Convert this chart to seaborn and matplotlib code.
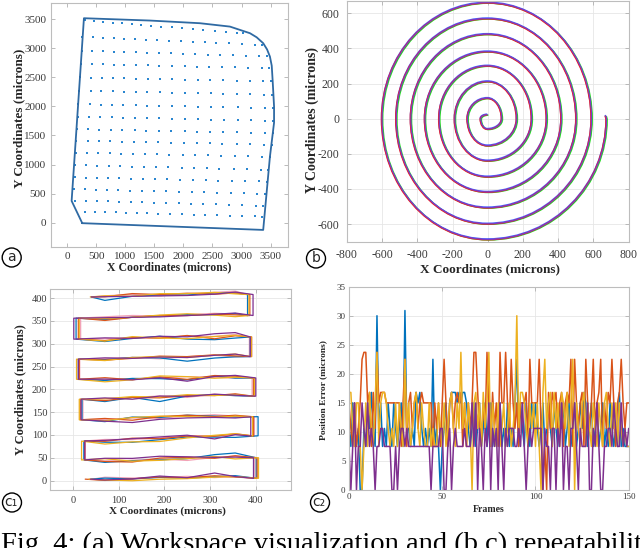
import numpy as np
import pandas as pd
import matplotlib
matplotlib.use("Agg")
import matplotlib.pyplot as plt
import matplotlib.transforms as mtransforms
from matplotlib.path import Path
from matplotlib.patches import PathPatch, Circle
import seaborn as sns

# ---------------- panel (a): workspace ----------------
outline_x = [258, 75, 287, 1423, 2284, 2800, 3145, 3260, 3373, 3440, 3489, 3520, 3535, 3560, 3560, 3489, 3373, 258]
outline_y = [-10, 373, 3518, 3478, 3432, 3374, 3260, 3190, 3088, 2980, 2857, 2700, 2456, 2000, 1720, 1136, -126, -10]

grid_row_y_left = [3480, 3200, 2960, 2730, 2500, 2270, 2040, 1825, 1610, 1410, 1205, 990, 780, 575, 380, 190]
grid_row_y_right = [3260, 3060, 2860, 2660, 2430, 2200, 1970, 1750, 1540, 1340, 1135, 905, 705, 495, 290, 105]
grid_row_x_left = [305, 262, 248, 236, 222, 208, 192, 178, 168, 158, 148, 138, 128, 118, 138, 300]
grid_row_x_right = [3030, 3346, 3432, 3477, 3506, 3518, 3535, 3545, 3535, 3518, 3489, 3460, 3432, 3403, 3373, 3346]
grid_ref_row_x = [178, 373, 563, 763, 953, 1165, 1366, 1578, 1796, 2026, 2244, 2468, 2685, 2932, 3162, 3403, 3535]

# ---------------- panel (b): spiral (axis crossings, microns) ----------------
spiral_x = [0, -40, 0, 80, 0, -115, 0, 165, 0, -187, 0, 250, 0, -276, 0, 335,
            0, -357, 0, 418, 0, -437, 0, 503, 0, -520, 0, 590, 0, -601, 0, 675]
spiral_y = [23, 0, -59, 0, 117, 0, -153, 0, 212, 0, -239, 0, 301, 0, -330, 0,
            382, 0, -417, 0, 481, 0, -506, 0, 570, 0, -598, 0, 660, 0, -687, 0]
spiral_tail_x = [670]
spiral_tail_y = [18]

# ---------------- panel (c1): raster scan ----------------
c1_row_y_left = [3, 45, 86, 133, 178, 222, 266, 310, 356, 402]
c1_row_y_right = [5, 50, 98, 140, 185, 225, 272, 315, 362, 408]
c1_turn_x = [35, 398, 24, 395, 18, 395, 12, 388, 12, 382, 40]
c1_station_x = [70, 130, 190, 250, 310, 355]

c1_blue_dev = [[2, 0, 3, 1, 4, 6], [-6, -3, -2, 0, 8, 11], [-4, -6, -2, 2, 0, -2], [-5, 4, 2, 6, 3, 0],
               [-6, 2, -8, 3, 5, 2], [-3, 1, 0, -3, 5, 0], [-2, 2, 0, -8, -2, 0], [-6, 0, 4, -3, -5, -2],
               [-4, 0, 2, 4, 3, 5], [-8, 0, 2, 1, 5, 4]]
c1_orange_dev = [[-3, 0, 4, 2, 6, 3], [-4, -6, 2, 3, 0, 5], [-2, 3, 0, 4, 2, 6], [2, -3, 4, 6, 2, 4],
                 [-4, 2, 0, 4, 3, 6], [3, -2, 4, -2, 6, 4], [-3, 0, 4, 2, 5, 2], [-4, 2, 0, 5, -3, 3],
                 [-6, 0, 3, 2, 4, 2], [0, 6, 3, 5, 2, 4]]
c1_yellow_dev = [[-2, -4, -1, 0, 3, 4], [2, -4, -3, 0, 4, -2], [-8, -5, -6, 0, 4, 6], [-3, 3, 5, 3, 0, 2],
                 [0, 4, 2, 6, 3, 4], [-6, -2, 6, 4, 0, 2], [-4, 2, 3, 0, 4, 6], [-5, 4, 0, -2, 2, 4],
                 [-2, 0, 4, 6, 2, -2], [2, 0, 5, 4, 6, 2]]
c1_purple_dev = [[-2, 0, 6, 2, 12, 4], [3, 2, 6, 4, 2, 2], [0, 2, 4, 6, -4, 4], [-4, -8, -2, 0, 0, -2],
                 [2, -2, 4, 2, 6, 3], [0, -2, 2, -6, 4, 6], [2, 0, 2, 0, 4, 6], [2, 0, 4, 2, 8, 10],
                 [0, 0, 0, 2, 4, 6], [0, 0, 0, 0, 2, 6]]
c1_pink_dev = [[4, 2, 3, 5, 2, 4], [-3, -2, 0, -4, 2, 4], [2, 0, 2, 4, 2, 4], [0, 2, 0, 4, 6, 2],
               [0, 2, 4, 0, 6, 2], [-2, 0, 2, 4, 2, 0], [0, 2, -2, 2, 4, 0], [0, 2, 0, 4, 2, 6],
               [2, 4, 2, 4, 6, 4], [2, 4, 0, 4, 6, 8]]
c1_blue_turn_dx = [5, 3, 0, 10, 2, 2, 0, 0, -5, 0, 0]
c1_orange_turn_dx = [-8, 5, 2, 0, -2, 0, 2, 3, 0, 5, 2]
c1_yellow_turn_dx = [0, 8, -5, -2, -4, 2, -4, 2, 2, 3, -2]
c1_purple_turn_dx = [3, -3, 2, -6, 0, 5, 0, 0, -10, 12, 0]
c1_pink_turn_dx = [8, 0, 3, 2, 4, -3, 3, -2, 5, 0, 5]

# ---------------- panel (c2): position error per frame ----------------
c2_blue = [10.6, 7.5, 15, 10.6, 7.5, 10.6, 0, 0, 10.6, 7.5,
           15, 10.6, 16.8, 10.6, 7.5, 30, 10.6, 15, 7.5, 10.6,
           7.5, 15, 10.6, 7.5, 15, 10.6, 7.5, 10.6, 15, 7.5,
           30.9, 10.6, 10.6, 7.5, 10.6, 7.5, 16.8, 15, 16.8, 10.6,
           7.5, 10.6, 7.5, 10.6, 7.5, 22.5, 7.5, 10.6, 7.5, 0,
           7.5, 10.6, 15, 7.5, 15, 16.8, 16.8, 16.8, 15, 16.8,
           15, 16.8, 16.8, 15, 10.6, 7.5, 10.6, 15, 7.5, 10.6,
           15, 7.5, 10.6, 15, 7.5, 10.6, 15, 7.5, 10.6, 7.5,
           10.6, 15, 7.5, 10.6, 7.5, 15, 7.5, 10.6, 7.5, 15,
           22.5, 7.5, 15, 10.6, 7.5, 15, 10.6, 7.5, 15, 10.6,
           15, 10.6, 7.5, 10.6, 15, 7.5, 10.6, 15, 10.6, 7.5,
           15, 10.6, 7.5, 15, 10.6, 15, 7.5, 10.6, 15, 7.5,
           10.6, 15, 7.5, 10.6, 15, 10.6, 16.8, 15, 7.5, 10.6,
           15, 7.5, 10.6, 15, 7.5, 10.6, 15, 7.5, 10.6, 7.5,
           15, 10.6, 7.5, 10.6, 7.5, 16.8, 7.5, 10.6, 7.5, 7.5, 7.5]
c2_orange = [15, 10.6, 7.5, 15, 7.5, 10.6, 15, 22.5, 23.7, 23.7,
             15, 16.8, 7.5, 16.8, 10.6, 23.7, 15, 16.8, 16.8, 16.8,
             15, 15, 15, 15, 15, 15, 15, 15, 7.5, 15,
             22.5, 7.5, 15, 16.8, 10.6, 15, 16.8, 10.6, 15, 16.8,
             15, 15, 15, 15, 15, 7.5, 15, 10.6, 15, 7.5,
             15, 22.5, 15, 7.5, 15, 16.8, 10.6, 15, 16.8, 15,
             16.8, 7.5, 15, 7.5, 15, 10.6, 15, 23.7, 23.7, 16.8,
             10.6, 7.5, 15, 10.6, 23.7, 15, 7.5, 16.8, 10.6, 15,
             7.5, 23.7, 15, 15, 23.7, 15, 10.6, 22.5, 15, 10.6,
             15, 7.5, 15, 15, 15, 16.8, 7.5, 22.5, 15, 15,
             15, 15, 22.5, 10.6, 0, 7.5, 0, 16.8, 10.6, 16.8,
             15, 16.8, 10.6, 15, 16.8, 7.5, 15, 16.8, 15, 22.5,
             7.5, 22.5, 15, 10.6, 15, 16.8, 7.5, 22.5, 15, 10.6,
             15, 22.5, 10.6, 15, 16.8, 22.5, 7.5, 15, 10.6, 16.8,
             15, 22.5, 15, 7.5, 15, 16.8, 22.5, 15, 10.6, 15, 15]
c2_yellow = [16.8, 16.8, 10.6, 7.5, 15, 15, 7.5, 0, 7.5, 15,
             7.5, 16.8, 10.6, 7.5, 15, 23.7, 7.5, 15, 16.8, 16.8,
             15, 10.6, 7.5, 10.6, 7.5, 15, 7.5, 15, 10.6, 7.5,
             22.5, 10.6, 15, 7.5, 10.6, 15, 16.8, 10.6, 7.5, 15,
             10.6, 7.5, 7.5, 15, 7.5, 10.6, 7.5, 7.5, 15, 10.6,
             7.5, 15, 7.5, 10.6, 15, 16.8, 10.6, 7.5, 15, 10.6,
             23.7, 10.6, 15, 7.5, 15, 10.6, 0, 15, 16.8, 10.6,
             15, 7.5, 16.8, 10.6, 15, 23.7, 7.5, 15, 10.6, 7.5,
             15, 7.5, 10.6, 15, 7.5, 10.6, 15, 7.5, 10.6, 15,
             30, 10.6, 16.8, 16.8, 15, 10.6, 7.5, 15, 10.6, 15,
             7.5, 15, 7.5, 0, 16.8, 22.5, 10.6, 15, 16.8, 7.5,
             16.8, 10.6, 15, 7.5, 16.8, 15, 10.6, 16.8, 7.5, 15,
             22.5, 0, 15, 10.6, 7.5, 15, 16.8, 7.5, 15, 10.6,
             7.5, 15, 10.6, 7.5, 15, 10.6, 7.5, 15, 16.8, 10.6,
             7.5, 15, 10.6, 15, 7.5, 15, 10.6, 7.5, 10.6, 7.5, 7.5]
c2_purple = [7.5, 0, 7.5, 15, 0, 7.5, 7.5, 15, 10.6, 7.5,
             15, 7.5, 10.6, 7.5, 0, 7.5, 7.5, 10.6, 10.6, 7.5,
             7.5, 7.5, 7.5, 0, 0, 7.5, 0, 7.5, 10.6, 10.6,
             7.5, 10.6, 7.5, 7.5, 7.5, 7.5, 7.5, 7.5, 7.5, 7.5,
             7.5, 7.5, 7.5, 7.5, 0, 7.5, 7.5, 7.5, 7.5, 10.6,
             10.6, 0, 0, 7.5, 10.6, 0, 7.5, 10.6, 7.5, 7.5,
             7.5, 7.5, 10.6, 7.5, 7.5, 7.5, 15, 7.5, 15, 0,
             10.6, 7.5, 0, 10.6, 7.5, 15, 0, 10.6, 7.5, 10.6,
             0, 15, 7.5, 0, 10.6, 7.5, 10.6, 10.6, 10.6, 7.5,
             7.5, 10.6, 7.5, 15, 7.5, 0, 7.5, 10.6, 7.5, 10.6,
             10.6, 10.6, 10.6, 10.6, 0, 10.6, 7.5, 7.5, 0, 10.6,
             10.6, 0, 10.6, 7.5, 15, 0, 7.5, 7.5, 0, 10.6,
             10.6, 15, 7.5, 0, 10.6, 7.5, 7.5, 7.5, 15, 0,
             0, 10.6, 7.5, 15, 7.5, 0, 0, 7.5, 7.5, 10.6,
             10.6, 7.5, 15, 10.6, 7.5, 7.5, 15, 7.5, 10.6, 7.5, 10.6]

caption = "Fig. 4: (a) Workspace visualization and (b,c) repeatability"

# ---------------- figure ----------------
sns.set_theme(style="white")
plt.rcParams['font.family'] = ['Liberation Serif', 'DejaVu Serif']
plt.rcParams['axes.unicode_minus'] = False

W, H = 640, 548
fig = plt.figure(figsize=(6.4, 5.48), dpi=100)


def box(l, r, t, b):
    return [l / W, 1 - b / H, (r - l) / W, (b - t) / H]


def style(ax, grid, fs, pad):
    for s in ax.spines.values():
        s.set_visible(True)
        s.set_color('#bdbdbd')
        s.set_linewidth(0.8)
    ax.tick_params(direction='in', length=3, width=0.6, color='#b0b0b0',
                   labelsize=fs, labelcolor='#3a3a3a', pad=pad,
                   bottom=True, left=True, top=True, right=True)
    if grid:
        ax.grid(True, color='#e6e6e6', linewidth=0.6)
    else:
        ax.grid(False)
    ax.set_axisbelow(True)


MBLUE, MORANGE, MYELLOW, MPURPLE = '#0072BD', '#D95319', '#EDB120', '#7E2F8E'

# ---- (a)
ax_a = fig.add_axes(box(51, 288, 3, 247))
ref = np.array(grid_ref_row_x, dtype=float)
frac = (ref - ref[0]) / (ref[-1] - ref[0])
gx, gy = [], []
for yl, yr, xl, xr in zip(grid_row_y_left, grid_row_y_right, grid_row_x_left, grid_row_x_right):
    gx.extend(xl + frac * (xr - xl))
    gy.extend(yl + frac * (yr - yl))
grid_df = pd.DataFrame({'x': gx, 'y': gy})
out_df = pd.DataFrame({'x': outline_x, 'y': outline_y})
sns.lineplot(data=out_df, x='x', y='y', sort=False, estimator=None, color='#2f6aa3', lw=1.3, ax=ax_a)
sns.scatterplot(data=grid_df, x='x', y='y', marker='s', s=2.5, color='#2a86d0', linewidth=0, ax=ax_a)
ax_a.set_xlim(-280, 3800)
ax_a.set_ylim(-420, 3780)
ax_a.set_xticks(np.arange(0, 3501, 500))
ax_a.set_yticks(np.arange(0, 3501, 500))
style(ax_a, False, 8, 3.5)
ax_a.set_xlabel('X Coordinates (microns)', fontsize=8.5, fontweight='bold')
ax_a.set_ylabel('Y Coordinates (microns)', fontsize=9.5, fontweight='bold')
ax_a.xaxis.set_label_coords(0.5, -0.057)
ax_a.yaxis.set_label_coords(-0.11, 0.527)

# ---- (b)
ax_b = fig.add_axes(box(347, 628.5, 1.3, 241.7))
k = 0.5523
pts = np.column_stack([spiral_x, spiral_y]).astype(float)
verts = [pts[0]]
codes = [Path.MOVETO]
for p0, p1 in zip(pts[:-1], pts[1:]):
    verts += [p0 + k * p1, p1 + k * p0, p1]
    codes += [Path.CURVE4] * 3
for tx, ty in zip(spiral_tail_x, spiral_tail_y):
    verts.append(np.array([tx, ty], dtype=float))
    codes.append(Path.LINETO)
spath = Path(np.array(verts), codes)
for col, lw, dx, dy in [('#22d822', 1.1, 0.45, -0.35), ('#4a60ff', 1.0, -0.35, 0.4),
                        ('#f02020', 1.0, -0.4, -0.25), ('#7a3cc6', 0.8, 0.0, 0.0)]:
    tr = mtransforms.offset_copy(ax_b.transData, fig=fig, x=dx, y=dy, units='points')
    ax_b.add_patch(PathPatch(spath, fc='none', ec=col, lw=lw, transform=tr))
ax_b.set_xlim(-800, 800)
ax_b.set_ylim(-700, 668)
ax_b.set_xticks(np.arange(-800, 801, 200))
ax_b.set_yticks(np.arange(-600, 601, 200))
style(ax_b, True, 8.5, 5.5)
ax_b.set_xlabel('X Coordinates (microns)', fontsize=9.5, fontweight='bold')
ax_b.set_ylabel('Y Coordinates (microns)', fontsize=10, fontweight='bold')
ax_b.xaxis.set_label_coords(0.507, -0.088)
ax_b.yaxis.set_label_coords(-0.101, 0.506)

# ---- (c1)
ax_c1 = fig.add_axes(box(50, 291, 289, 489.7))


def raster(dev, turn_dx):
    xs, ys = [], []
    for i in range(len(c1_row_y_left)):
        xa = c1_turn_x[i] + turn_dx[i]
        xb = c1_turn_x[i + 1] + turn_dx[i + 1]
        yl, yr = c1_row_y_left[i], c1_row_y_right[i]
        base = lambda x: yl + (yr - yl) * x / 400.0
        st = list(zip(c1_station_x, dev[i]))
        if xa > xb:
            st = st[::-1]
        xs.append(xa); ys.append(base(xa))
        for sx, d in st:
            xs.append(sx); ys.append(base(sx) + d)
        xs.append(xb); ys.append(base(xb))
    return xs, ys


frames = []
for name, dev, tdx in [('pink', c1_pink_dev, c1_pink_turn_dx), ('blue', c1_blue_dev, c1_blue_turn_dx),
                       ('orange', c1_orange_dev, c1_orange_turn_dx), ('yellow', c1_yellow_dev, c1_yellow_turn_dx),
                       ('purple', c1_purple_dev, c1_purple_turn_dx)]:
    xs, ys = raster(dev, tdx)
    frames.append(pd.DataFrame({'x': xs, 'y': ys, 'trace': name}))
c1_df = pd.concat(frames, ignore_index=True)
sns.lineplot(data=c1_df, x='x', y='y', hue='trace', sort=False, estimator=None, legend=False,
             palette={'pink': '#f2a2b6', 'blue': MBLUE, 'orange': MORANGE, 'yellow': MYELLOW, 'purple': MPURPLE},
             hue_order=['pink', 'blue', 'orange', 'yellow', 'purple'], lw=0.9, ax=ax_c1)
ax_c1.set_xlim(-50, 477)
ax_c1.set_ylim(-20, 420)
ax_c1.set_xticks(np.arange(0, 401, 100))
ax_c1.set_yticks(np.arange(0, 401, 50))
style(ax_c1, True, 7.5, 4.5)
ax_c1.tick_params(axis='y', pad=2)
ax_c1.set_xlabel('X Coordinates (microns)', fontsize=8, fontweight='bold')
ax_c1.set_ylabel('Y Coordinates (microns)', fontsize=9, fontweight='bold')
ax_c1.xaxis.set_label_coords(0.487, -0.081)
ax_c1.yaxis.set_label_coords(-0.097, 0.5)

# ---- (c2)
ax_c2 = fig.add_axes(box(349, 628.7, 286.7, 490))
parts = []
for name, vals in [('s1', c2_blue), ('s2', c2_orange), ('s3', c2_yellow), ('s4', c2_purple)]:
    parts.append(pd.DataFrame({'frame': np.arange(len(vals)), 'err': vals, 'series': name}))
c2_df = pd.concat(parts, ignore_index=True)
sns.lineplot(data=c2_df, x='frame', y='err', hue='series', estimator=None, legend=False,
             palette={'s1': MBLUE, 's2': MORANGE, 's3': MYELLOW, 's4': MPURPLE},
             hue_order=['s1', 's2', 's3', 's4'], lw=1.1, ax=ax_c2)
ax_c2.set_xlim(0, 150)
ax_c2.set_ylim(0, 35)
ax_c2.set_xticks([0, 50, 100, 150])
ax_c2.set_yticks(np.arange(0, 36, 5))
style(ax_c2, True, 6.5, 2.5)
ax_c2.set_xlabel('Frames', fontsize=7, fontweight='bold')
ax_c2.set_ylabel('Position Error (microns)', fontsize=6.8, fontweight='bold')
ax_c2.xaxis.set_label_coords(0.5, -0.076)
ax_c2.yaxis.set_label_coords(-0.077, 0.49)

# ---- circled panel labels
for cx, cy, lab, sub in [(11.7, 257.5, 'a', ''), (316, 258.5, 'b', ''), (12, 502.5, 'c', '1'), (320, 502.5, 'c', '2')]:
    fig.add_artist(Circle((cx / 100, (H - cy) / 100), 0.095, transform=fig.dpi_scale_trans,
                          fill=False, ec='black', lw=1.0))
    if sub:
        fig.text((cx - 1.0) / W, 1 - (cy - 0.5) / H, lab + sub.translate(str.maketrans('12', '\u2081\u2082')),
                 ha='center', va='center', fontsize=10, family='DejaVu Sans')
    else:
        fig.text(cx / W, 1 - (cy - 0.5) / H, lab, ha='center', va='center', fontsize=10, family='DejaVu Sans')

# ---- caption (cut off by the bottom edge as in the source)
fig.text(1 / W, 1 - 551 / H, caption, ha='left', va='baseline', fontsize=20.5, color='black')

fig.savefig('out.png', dpi=100)
